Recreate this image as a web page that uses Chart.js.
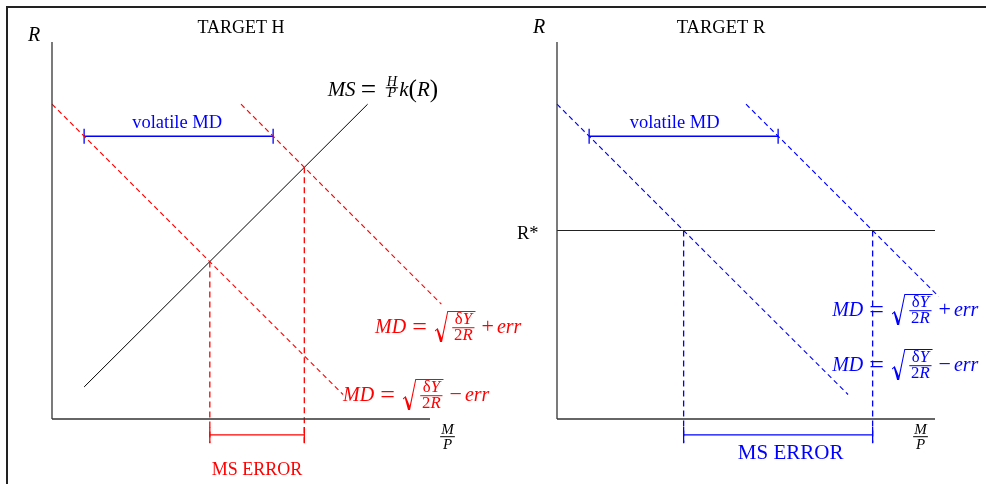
<!DOCTYPE html>
<html>
<head>
<meta charset="utf-8">
<script src="https://cdn.jsdelivr.net/npm/chart.js@4.4.0/dist/chart.umd.min.js"></script>
<style>
  html, body { margin: 0; padding: 0; background: #fff; }
  body { width: 986px; height: 484px; position: relative; overflow: hidden; }
  #frame { position: absolute; left: 6px; top: 6px; right: 0; bottom: 0;
           border-top: 2px solid #222; border-left: 2px solid #222; }
  canvas { position: absolute; left: 0; top: 0; }
</style>
</head>
<body>
<div id="frame"></div>
<canvas id="targetH" width="986" height="484"></canvas>
<canvas id="targetR" width="986" height="484"></canvas>
<script>
// both diagrams use the same arbitrary units, 0..10 on each axis
const axisMax = 10;

// TARGET H: money supply slopes up, money demand shifts by +/- err
const msH = [[0.85, 0.85], [8.35, 8.35]];
const mdLowH = [[0, 8.35], [7.7, 0.65]];
const mdHighH = [[5, 8.35], [10.3, 3.05]];
const equilH = [4.175, 6.675];   // M/P where MS meets each MD

// TARGET R: rate held at R*, supply moves with demand
const rStar = 5;
const mdLowR = [[0, 8.35], [7.7, 0.65]];
const mdHighR = [[5, 8.35], [10.1, 3.25]];
const equilR = [3.35, 8.35];

// brackets: spread of demand at R = 7.5, and the resulting MS error
const volatileY = 7.5;
const volatileH = [0.85, 5.85];
const volatileR = [0.85, 5.85];
const errorY = -0.42;
const dropBottom = -0.64;

const RED = '#ff0000';
const BLUE = '#0000ff';
const SERIF = '"Liberation Serif", "Times New Roman", serif';

const pts = a => a.map(([x, y]) => ({ x, y }));

function line(data, color, width, dash) {
  return {
    data: pts(data), showLine: true, borderColor: color, borderWidth: width,
    borderDash: dash || [], pointRadius: 0, pointHoverRadius: 0,
    fill: false, clip: false, tension: 0
  };
}

function bracket(range, y, tick, color) {
  return [
    line([[range[0], y], [range[1], y]], color, 1.3),
    line([[range[0], y - tick], [range[0], y + tick]], color, 1.3),
    line([[range[1], y - tick], [range[1], y + tick]], color, 1.3)
  ];
}

function drops(xs, tops, color) {
  return xs.map((x, i) => line([[x, tops[i]], [x, dropBottom]], color, 1.3, [6, 4]));
}

const axes = () => [
  line([[0, 0], [0, axisMax]], '#333', 1.3),
  line([[0, 0], [axisMax, 0]], '#333', 1.3)
];

// tiny math typesetter: strings, spacing (em), fractions and square roots
function typeset(ctx, items, x, base, size, draw) {
  let cx = x;
  for (const it of items) {
    if (typeof it === 'number') { cx += it * size; continue; }
    if (it.frac) {
      const f = it.frac, fs = size * f.scale;
      const wn = typeset(ctx, f.num, 0, 0, fs, false);
      const wd = typeset(ctx, f.den, 0, 0, fs, false);
      const w = Math.max(wn, wd) + size * f.pad;
      if (draw) {
        typeset(ctx, f.num, cx + (w - wn) / 2, base + f.nb * size, fs, true);
        typeset(ctx, f.den, cx + (w - wd) / 2, base + f.db * size, fs, true);
        ctx.fillRect(cx, base + f.bar * size - 0.5, w, 1);
      }
      cx += w;
      continue;
    }
    if (it.sqrt) {
      const rw = size * 0.65, top = base - size * 1.1, bot = base + size * 0.45;
      const h = bot - top;
      const wc = typeset(ctx, it.sqrt, 0, 0, size, false);
      if (draw) {
        ctx.beginPath();
        ctx.moveTo(cx, top + 0.63 * h);
        ctx.lineTo(cx + 0.22 * rw, top + 0.55 * h);
        ctx.lineTo(cx + 0.53 * rw, top + 0.86 * h);
        ctx.lineTo(cx + rw - 0.5, top);
        ctx.lineTo(cx + rw + 0.5, top);
        ctx.lineTo(cx + 0.5 * rw + 0.7, bot);
        ctx.lineTo(cx + 0.4 * rw, bot);
        ctx.lineTo(cx + 0.15 * rw, top + 0.61 * h);
        ctx.lineTo(cx + 0.05 * rw, top + 0.66 * h);
        ctx.closePath();
        ctx.fill();
        ctx.fillRect(cx + rw, top, wc, 1);
        typeset(ctx, it.sqrt, cx + rw, base, size, true);
      }
      cx += rw + wc;
      continue;
    }
    // relation/operator glyphs may be set larger (s) and shifted down (dy, em)
    const fsz = size * (it.s || 1);
    ctx.font = (it.i ? 'italic ' : '') + fsz + 'px ' + SERIF;
    if (draw) ctx.fillText(it.t, cx, base + (it.dy || 0) * size);
    cx += ctx.measureText(it.t).width;
  }
  return cx - x;
}

function mathAt(ctx, items, x, base, size, color, align) {
  ctx.fillStyle = color;
  ctx.textAlign = 'left';
  ctx.textBaseline = 'alphabetic';
  let left = x;
  if (align === 'center') left = x - typeset(ctx, items, 0, 0, size, false) / 2;
  typeset(ctx, items, left, base, size, true);
}

function text(ctx, s, x, y, size, color, align, italic) {
  mathAt(ctx, [{ t: s, i: italic }], x, y, size, color, align);
}

const EQ = { t: '=', s: 1.3, dy: 0.1 };

const mdLabel = sign => [
  { t: 'MD', i: true }, 0.3, EQ, 0.4,
  { sqrt: [0.22, { frac: { num: [{ t: 'δ' }, { t: 'Y', i: true }], den: [{ t: '2' }, { t: 'R', i: true }],
                           scale: 0.84, pad: 0.18, nb: -0.47, bar: -0.265, db: 0.35 } }, 0.05] },
  0.3, { t: sign, s: 1.1 }, 0.15, { t: 'err', i: true }
];

const msLabel = [
  { t: 'MS', i: true }, 0.25, EQ, 0.45,
  { frac: { num: [{ t: 'H', i: true }], den: [{ t: 'P', i: true }],
            scale: 0.68, pad: 0.1, nb: -0.5, bar: -0.4, db: 0.06 } },
  0.05, { t: 'k', i: true }, { t: '(', s: 1.2, dy: 0.05 }, { t: 'R', i: true }, { t: ')', s: 1.2, dy: 0.05 }
];

const mpLabel = [
  { frac: { num: [{ t: 'M', i: true }], den: [{ t: 'P', i: true }],
            scale: 1, pad: 0.15, nb: -0.2, bar: 0, db: 0.85 } }
];

function makeChart(id, datasets, padLeft, padRight, drawLabels) {
  return new Chart(document.getElementById(id).getContext('2d'), {
    type: 'scatter',
    data: { datasets },
    options: {
      responsive: false,
      animation: false,
      events: [],
      layout: { padding: { left: padLeft, right: padRight, top: 42, bottom: 65 } },
      scales: {
        x: { type: 'linear', min: 0, max: axisMax, display: false },
        y: { type: 'linear', min: 0, max: axisMax, display: false }
      },
      plugins: { legend: { display: false }, tooltip: { enabled: false } }
    },
    plugins: [{
      id: 'labels',
      afterDatasetsDraw(chart) {
        const ctx = chart.ctx;
        const X = v => chart.scales.x.getPixelForValue(v);
        const Y = v => chart.scales.y.getPixelForValue(v);
        ctx.save();
        drawLabels(ctx, X, Y);
        ctx.restore();
      }
    }]
  });
}

// ---- TARGET H ----
makeChart('targetH', [
  ...axes(),
  line(mdLowH, RED, 1.1, [5, 3.5]),
  line(mdHighH, RED, 1.1, [5, 3.5]),
  ...drops(equilH, equilH, RED),
  line(msH, '#000', 1),
  ...bracket(volatileH, volatileY, 0.2, BLUE),
  ...bracket(equilH, errorY, 0.21, RED)
], 52, 556, (ctx, X, Y) => {
  text(ctx, 'R', X(0) - 24, Y(axisMax) - 1, 20, '#000', 'left', true);
  text(ctx, 'TARGET H', X(axisMax / 2), Y(axisMax) - 9, 18, '#000', 'center');
  mathAt(ctx, msLabel, X(msH[1][0]) - 40, Y(msH[1][1]) - 8, 21, '#000');
  mathAt(ctx, mdLabel('+'), X(mdLowH[1][0]) + 32, Y(mdHighH[1][1]) + 29, 20, RED);
  mathAt(ctx, mdLabel('\u2212'), X(mdLowH[1][0]), Y(mdLowH[1][1]) + 6.5, 20, RED);
  text(ctx, 'volatile MD', (X(volatileH[0]) + X(volatileH[1])) / 2 - 1.5, Y(volatileY) - 8, 18.5, BLUE, 'center');
  text(ctx, 'MS ERROR', (X(equilH[0]) + X(equilH[1])) / 2, Y(errorY) + 40, 18, RED, 'center');
  mathAt(ctx, mpLabel, X(axisMax) + 17.5, Y(0) + 17.7, 15, '#000', 'center');
});

// ---- TARGET R ----
makeChart('targetR', [
  ...axes(),
  line([[0, rStar], [axisMax, rStar]], '#222', 1.2),
  line(mdLowR, BLUE, 1.1, [5, 3.5]),
  line(mdHighR, BLUE, 1.1, [5, 3.5]),
  ...drops(equilR, [rStar, rStar], BLUE),
  ...bracket(volatileR, volatileY, 0.2, BLUE),
  ...bracket(equilR, errorY, 0.21, BLUE)
], 557, 51, (ctx, X, Y) => {
  text(ctx, 'R', X(0) - 24, Y(axisMax) - 9, 20, '#000', 'left', true);
  text(ctx, 'TARGET R', X(axisMax / 2) - 25, Y(axisMax) - 9, 18.5, '#000', 'center');
  text(ctx, 'R*', X(0) - 40, Y(rStar) + 8.5, 18.5, '#000', 'left');
  mathAt(ctx, mdLabel('+'), X(equilR[1]) - 40.5, Y(rStar) + 85.5, 20, BLUE);
  mathAt(ctx, mdLabel('\u2212'), X(equilR[1]) - 40.5, Y(rStar) + 140.5, 20, BLUE);
  text(ctx, 'volatile MD', (X(volatileR[0]) + X(volatileR[1])) / 2 - 9, Y(volatileY) - 8, 18.5, BLUE, 'center');
  text(ctx, 'MS ERROR', (X(equilR[0]) + X(equilR[1])) / 2 + 12.5, Y(errorY) + 24, 21, BLUE, 'center');
  mathAt(ctx, mpLabel, X(axisMax) - 14.5, Y(0) + 17.7, 15, '#000', 'center');
});
</script>
</body>
</html>
